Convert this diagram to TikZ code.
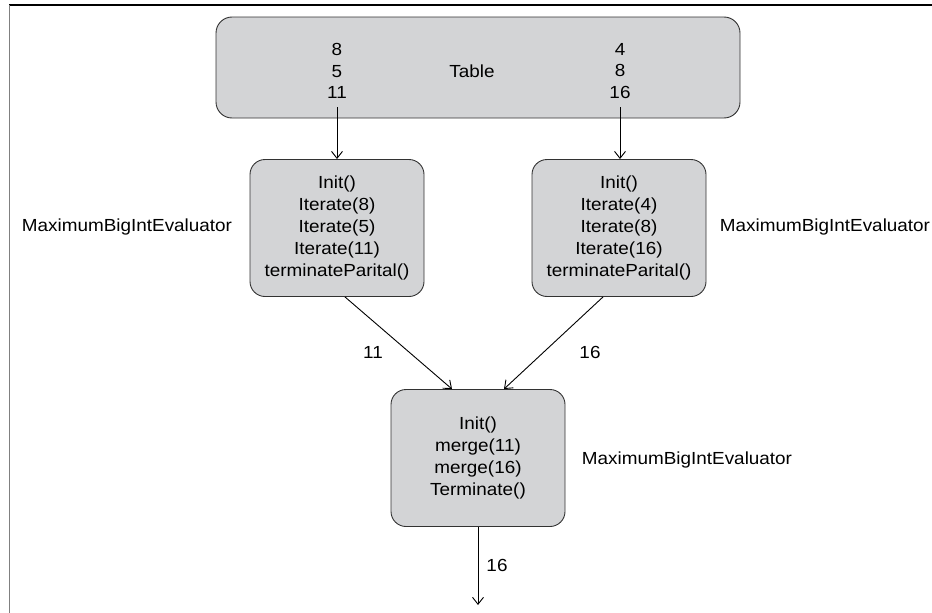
\documentclass[tikz,border=0pt]{standalone}
\usepackage{fontspec}
\setmainfont{Liberation Sans}[FakeStretch=1.08]
\usetikzlibrary{arrows.meta}
\definecolor{boxgray}{RGB}{211,212,214}
\definecolor{edgegray}{RGB}{50,50,50}
\tikzset{
  procbox/.style={draw=edgegray, line width=0.9pt, fill=boxgray, rounded corners=15pt, minimum width=174pt, minimum height=137pt, align=center, font=\fontsize{17.5}{22}\selectfont, inner sep=0pt},
  tablebox/.style={draw=edgegray, line width=0.9pt, fill=boxgray, rounded corners=16pt, minimum width=524pt, minimum height=101pt, inner sep=0pt},
  lbl/.style={font=\fontsize{17.5}{22}\selectfont, inner sep=0pt},
  col/.style={font=\fontsize{17.5}{21.5}\selectfont, align=center, inner sep=0pt},
  conn/.style={line width=0.9pt, -{Straight Barb[length=7pt,width=11pt]}},
}
\begin{document}
\begin{tikzpicture}[x=1pt,y=-1pt]
\useasboundingbox (0,0) rectangle (932,613);
% frame
\draw[line width=1.5pt, black] (9,5) -- (932,5);
\draw[line width=1.8pt, gray] (9.5,5) -- (9.5,613);
% table
\node[tablebox] (T) at (478,67.5) {};
\node[col] (tl) at (337,71) {8\\5\\11};
\node[lbl] (tt) at (472,71) {Table};
\node[col] (tr) at (620,71) {4\\8\\16};
% evaluator boxes
\node[procbox] (L) at (337,228) {Init()\\Iterate(8)\\Iterate(5)\\Iterate(11)\\terminateParital()};
\node[procbox] (R) at (619,228) {Init()\\Iterate(4)\\Iterate(8)\\Iterate(16)\\terminateParital()};
\node[procbox] (B) at (478,458) {Init()\\merge(11)\\merge(16)\\Terminate()};
% labels
\node[lbl] (ll) at (127,227) {MaximumBigIntEvaluator};
\node[lbl] (rl) at (825,227) {MaximumBigIntEvaluator};
\node[lbl] (bl) at (687,460) {MaximumBigIntEvaluator};
% connectors
\coordinate (ta) at (337,107);
\coordinate (tb) at (620,107);
\coordinate (out) at (478,605);
\draw[conn] (ta) -- (L.north);
\draw[conn] (tb) -- (L.north -| tb);
\draw[conn] ([xshift=8pt]L.south) -- ([xshift=-26pt]B.north);
\draw[conn] ([xshift=-16pt]R.south) -- ([xshift=26pt]B.north);
\draw[conn] (B.south) -- (out);
\node[lbl] (n11) at (373,352) {11};
\node[lbl] (n16) at (590,352) {16};
\node[lbl] (o16) at (497,565) {16};
\end{tikzpicture}
\end{document}
